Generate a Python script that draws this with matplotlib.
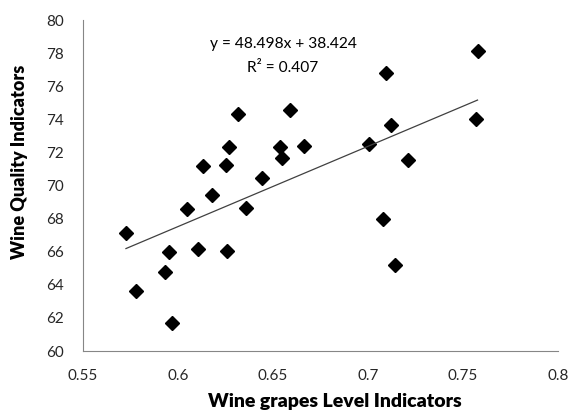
import matplotlib
matplotlib.use('Agg')
import matplotlib.pyplot as plt
import numpy as np

# grape level indicator vs wine quality indicator
grape_level = [0.5726, 0.5777, 0.5930, 0.5951, 0.5967, 0.6046, 0.6104, 0.6130, 0.6179,
               0.6254, 0.6258, 0.6268, 0.6314, 0.6358, 0.6444, 0.6537, 0.6546, 0.6590,
               0.6663, 0.7007, 0.7081, 0.7095, 0.7120, 0.7144, 0.7210, 0.7568, 0.7577]
wine_quality = [67.11, 63.63, 64.77, 65.96, 61.67, 68.58, 66.18, 71.18, 69.44,
                71.26, 66.02, 72.31, 74.30, 68.62, 70.45, 72.35, 71.64, 74.58,
                72.40, 72.49, 68.00, 76.82, 73.66, 65.20, 71.54, 74.02, 78.13]

# trendline as reported on the chart
slope = 48.498
intercept = 38.424
r2 = 0.407

xticks = [0.55, 0.6, 0.65, 0.7, 0.75, 0.8]
xticklabels = ['0.55', '0.6', '0.65', '0.7', '0.75', '0.8']
yticks = [60, 62, 64, 66, 68, 70, 72, 74, 76, 78, 80]

plt.rcParams['font.family'] = ['Lato', 'DejaVu Sans']

fig = plt.figure(figsize=(5.71, 4.12), dpi=100)
ax = fig.add_axes([0.1454, 0.148, 0.8316, 0.803])

ax.plot(grape_level, wine_quality, ls='none', marker='D', markersize=6.8,
        color='black')

xs = np.array([min(grape_level), max(grape_level)])
ax.plot(xs, slope * xs + intercept, color='#404040', lw=0.9)

ax.text(0.6553, 78.55, 'y = %.3fx + %.3f' % (slope, intercept), ha='center',
        va='center', fontsize=11.2)
ax.text(0.6553, 77.1, 'R² = %.3f' % r2, ha='center', va='center', fontsize=11.2)

ax.set_xlim(0.55, 0.8)
ax.set_ylim(60, 80)
ax.set_xticks(xticks)
ax.set_xticklabels(xticklabels)
ax.set_yticks(yticks)
ax.tick_params(length=0, labelsize=11, colors='#262626')
ax.tick_params(axis='y', pad=14)
ax.tick_params(axis='x', pad=13)

for side in ['top', 'right']:
    ax.spines[side].set_visible(False)
for side in ['left', 'bottom']:
    ax.spines[side].set_color('#868686')
    ax.spines[side].set_linewidth(0.8)

# axis titles placed where the original puts them
fig.text(0.587, 0.013, 'Wine grapes Level Indicators', ha='center',
         va='baseline', fontsize=14, fontweight='heavy')
fig.text(0.035, 0.607, 'Wine Quality Indicators', ha='center', va='center',
         rotation=90, fontsize=13, fontweight='heavy')

fig.savefig('out.png', dpi=100)
